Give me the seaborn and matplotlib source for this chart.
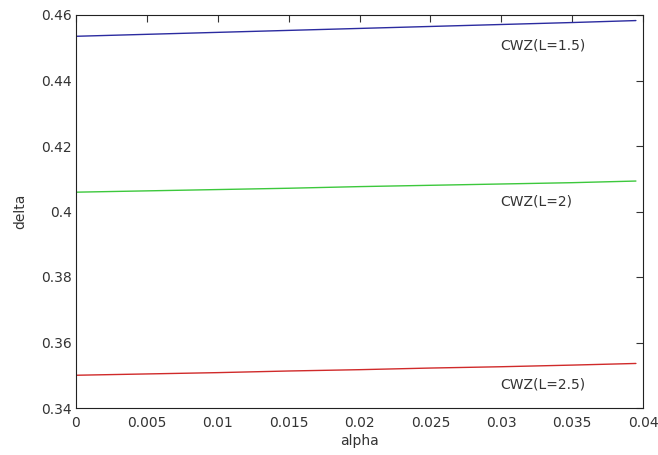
import matplotlib
matplotlib.use("Agg")
import matplotlib.pyplot as plt
import seaborn as sns
import pandas as pd

alpha = [0.0, 0.005, 0.01, 0.015, 0.02, 0.025, 0.03, 0.035, 0.0395]
delta_l15 = [0.4535, 0.4541, 0.4547, 0.4553, 0.4559, 0.4565, 0.4571, 0.4577, 0.4583]
delta_l2 = [0.4059, 0.4063, 0.4067, 0.4071, 0.4076, 0.4080, 0.4084, 0.4088, 0.4093]
delta_l25 = [0.3500, 0.3504, 0.3508, 0.3513, 0.3517, 0.3522, 0.3526, 0.3531, 0.3536]
series_names = ["CWZ(L=1.5)", "CWZ(L=2)", "CWZ(L=2.5)"]
series_colors = ["#2b2ba0", "#3cc83c", "#d02a2a"]
label_pos = [0.4508, 0.4030, 0.3473]

sns.set_style("white")
plt.rcParams['font.family'] = ['DejaVu Sans']

rows = []
for name, vals in zip(series_names, [delta_l15, delta_l2, delta_l25]):
    for a, d in zip(alpha, vals):
        rows.append({"alpha": a, "delta": d, "series": name})
df = pd.DataFrame(rows)

fig = plt.figure(figsize=(6.58, 4.55), dpi=100)
ax = fig.add_axes([76/658, 1 - 408/455, (643-76)/658, (408-15)/455])
sns.lineplot(data=df, x="alpha", y="delta", hue="series", palette=series_colors,
             hue_order=series_names, ax=ax, legend=False, linewidth=1.0)

for name, y in zip(series_names, label_pos):
    ax.text(0.0299, y, name, ha="left", va="center", fontsize=10, color="#333333")

ax.set_xlim(0, 0.04)
ax.set_ylim(0.34, 0.46)
ax.set_xticks([0, 0.005, 0.01, 0.015, 0.02, 0.025, 0.03, 0.035, 0.04])
ax.set_xticklabels(["0", "0.005", "0.01", "0.015", "0.02", "0.025", "0.03", "0.035", "0.04"])
ax.set_yticks([0.34, 0.36, 0.38, 0.40, 0.42, 0.44, 0.46])
ax.set_yticklabels(["0.34", "0.36", "0.38", "0.4", "0.42", "0.44", "0.46"])
ax.tick_params(direction="in", length=5, width=0.8, top=True, right=True,
               labelsize=10, colors="#333333", pad=3)
ax.tick_params(axis="x", pad=6)
for s in ax.spines.values():
    s.set_color("#222222")
    s.set_linewidth(0.8)
ax.set_xlabel("alpha", fontsize=10, labelpad=3, color="#333333")
ax.set_ylabel("delta", fontsize=10, labelpad=10, color="#333333")

fig.savefig("out.png", dpi=100)
